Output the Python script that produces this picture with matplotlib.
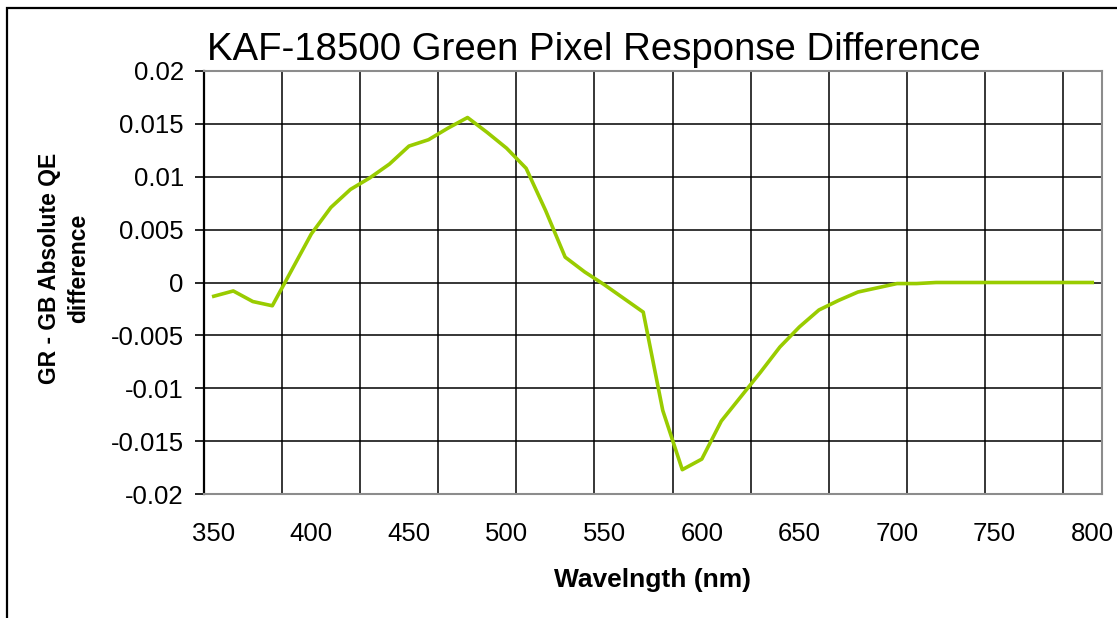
import numpy as np
import matplotlib.pyplot as plt
from matplotlib.patches import Rectangle
import matplotlib as mpl
mpl.rcParams['font.family'] = ['Liberation Sans', 'DejaVu Sans']

# wavelength (nm) and GR - GB absolute QE difference
wavelength = np.arange(350, 801, 10)
qe_diff = [-0.0013, -0.0008, -0.0018, -0.0022, 0.0012, 0.0046, 0.0071, 0.0088,
           0.0099, 0.0112, 0.0129, 0.0135, 0.0146, 0.0156, 0.0142, 0.0127,
           0.0108, 0.0068, 0.0024, 0.0010, -0.0002, -0.0015, -0.0028, -0.0121,
           -0.0177, -0.0167, -0.0131, -0.0108, -0.0085, -0.0061, -0.0042, -0.0026,
           -0.0017, -0.0009, -0.0005, -0.0001, -0.0001, 0.0, 0.0, 0.0,
           0.0, 0.0, 0.0, 0.0, 0.0, 0.0]

x_ticks = [350, 400, 450, 500, 550, 600, 650, 700, 750, 800]
x_grid = np.arange(385, 800, 40)   # excel category gridlines, every 4 points
y_ticks = [-0.02, -0.015, -0.01, -0.005, 0, 0.005, 0.01, 0.015, 0.02]
y_labels = ['-0.02', '-0.015', '-0.01', '-0.005', '0', '0.005', '0.01', '0.015', '0.02']

W, H = 1117, 618
fig = plt.figure(figsize=(W/100, H/100), dpi=100)
ax = fig.add_axes([204/W, (H-494)/H, 898/W, 423/H])

ax.plot(wavelength, qe_diff, color='#99cc00', linewidth=2.6, zorder=3)

ax.set_xlim(345, 805)
ax.set_ylim(-0.02, 0.02)
ax.set_xticks(x_ticks)
ax.set_xticks(x_grid, minor=True)
ax.set_yticks(y_ticks)
ax.set_yticklabels(y_labels)
ax.tick_params(axis='x', which='both', length=0, pad=20, labelsize=18.5)
ax.tick_params(axis='y', length=6.5, width=1.2, pad=8, labelsize=18.5, color='black')
ax.grid(False)
ax.xaxis.grid(True, which='minor', color='black', linewidth=1.1)
ax.yaxis.grid(True, which='major', color='black', linewidth=1.1)
ax.set_axisbelow(True)

for s in ['top', 'right', 'bottom']:
    ax.spines[s].set_color('#8c8c8c')
    ax.spines[s].set_linewidth(1.5)
ax.spines['left'].set_color('black')
ax.spines['left'].set_linewidth(1.6)

fig.text(594/W, 1-60/H, 'KAF-18500 Green Pixel Response Difference', fontsize=27.6,
         ha='center', va='baseline')
fig.text(652/W, 1-587/H, 'Wavelngth (nm)', fontsize=19, fontweight='bold',
         ha='center', va='baseline')
fig.text(64/W, 1-268/H, 'GR - GB Absolute QE\ndifference', fontsize=16.5,
         fontweight='bold', rotation=90, ha='center', va='center',
         multialignment='center', linespacing=1.3)

# outer chart border (runs off the right and bottom of the picture)
fig.patches.append(Rectangle((7/W, -0.1), 1.2, 1-8/H+0.1, transform=fig.transFigure,
                             fill=False, edgecolor='black', linewidth=1.6))

fig.savefig('out.png', dpi=100)
